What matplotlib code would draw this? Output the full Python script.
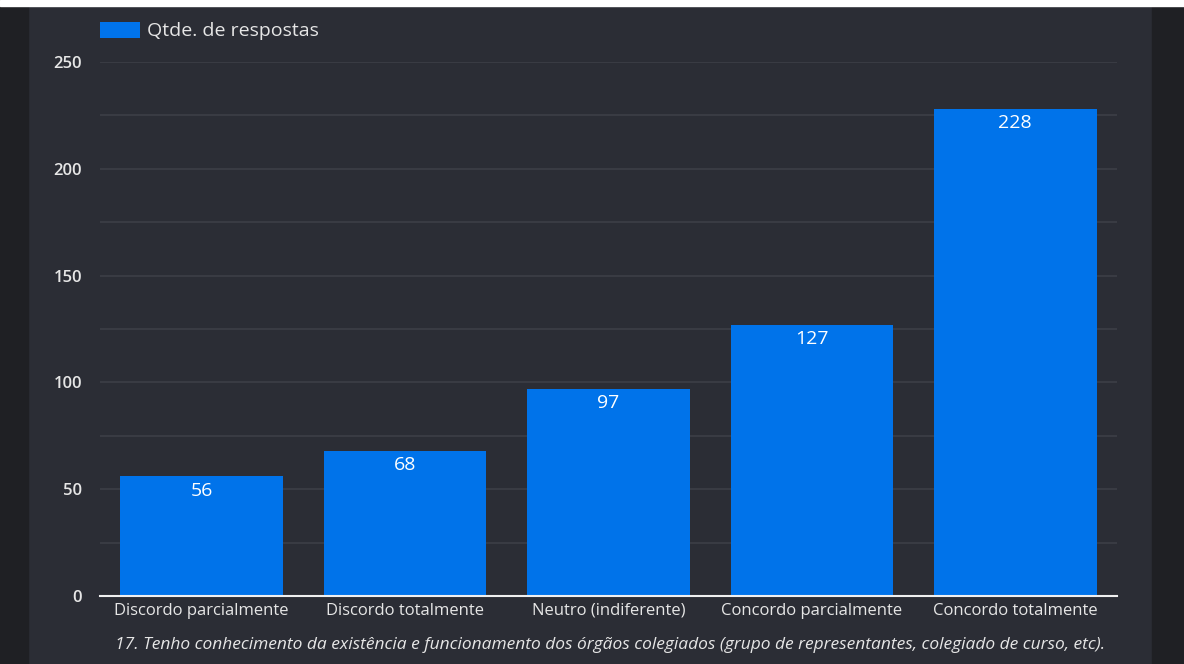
import matplotlib.pyplot as plt
from matplotlib.patches import Rectangle

categories = ['Discordo parcialmente', 'Discordo totalmente', 'Neutro (indiferente)',
              'Concordo parcialmente', 'Concordo totalmente']
respostas = [56, 68, 97, 127, 228]
legend_label = 'Qtde. de respostas'
title = ('17. Tenho conhecimento da existência e funcionamento dos órgãos colegiados '
         '(grupo de representantes, colegiado de curso, etc).')
yticks = [0, 50, 100, 150, 200, 250]

plt.rcParams['font.family'] = ['Open Sans', 'DejaVu Sans']

panel = '#2b2d35'
dark = '#1f2024'
blue = '#0073ea'
txt = '#e6e6e6'

W, H = 1184, 664
fig = plt.figure(figsize=(W / 100, H / 100), dpi=100)
fig.patch.set_facecolor(panel)
# outer frame pieces
fig.add_artist(Rectangle((0, 0), 28 / W, 1, transform=fig.transFigure, color=dark, zorder=0))
fig.add_artist(Rectangle((1152 / W, 0), 1 - 1152 / W, 1, transform=fig.transFigure, color=dark, zorder=0))
fig.add_artist(Rectangle((0, 1 - 6 / H), 1, 6 / H, transform=fig.transFigure, color='white', zorder=1))

ax = fig.add_axes([100 / W, 68 / H, 1017 / W, (596 - 62) / H])
ax.set_facecolor(panel)
x = range(len(categories))
bars = ax.bar(x, respostas, width=0.8, color=blue, zorder=3, label=legend_label)
ax.set_xlim(-0.5, len(categories) - 0.5)
ax.set_ylim(0, 250)
ax.set_yticks(yticks)
ax.set_yticks(range(25, 250, 50), minor=True)
ax.grid(axis='y', which='both', color='#3d3f47', linewidth=1.2, zorder=0)
ax.set_xticks(list(x))
ax.set_xticklabels(categories, fontsize=12, color=txt)
ax.tick_params(axis='y', which='both', length=0, labelsize=12, labelcolor=txt, pad=13)
for lbl in ax.get_yticklabels():
    lbl.set_fontweight('semibold')
ax.tick_params(axis='x', length=0, pad=5)
for s in ['top', 'right', 'left']:
    ax.spines[s].set_visible(False)
ax.spines['bottom'].set_color('#f0f0f0')
ax.spines['bottom'].set_linewidth(1.5)
ax.spines['bottom'].set_zorder(4)

for b, v in zip(bars, respostas):
    ax.text(b.get_x() + b.get_width() / 2, v - 2.5, str(v), ha='center', va='top',
            color='white', fontsize=14, zorder=5)

leg = ax.legend(loc='center left', bbox_to_anchor=(0, 1 + 31 / 534), frameon=False, fontsize=14,
                handlelength=2.06, handleheight=0.93, borderaxespad=0, borderpad=0, handletextpad=0.36)
for t in leg.get_texts():
    t.set_color(txt)

fig.text(610 / W, 1 - 645 / H, title, ha='center', va='center', fontsize=12.5,
         style='italic', color=txt)

fig.savefig('out.png', dpi=100, facecolor=fig.get_facecolor())
